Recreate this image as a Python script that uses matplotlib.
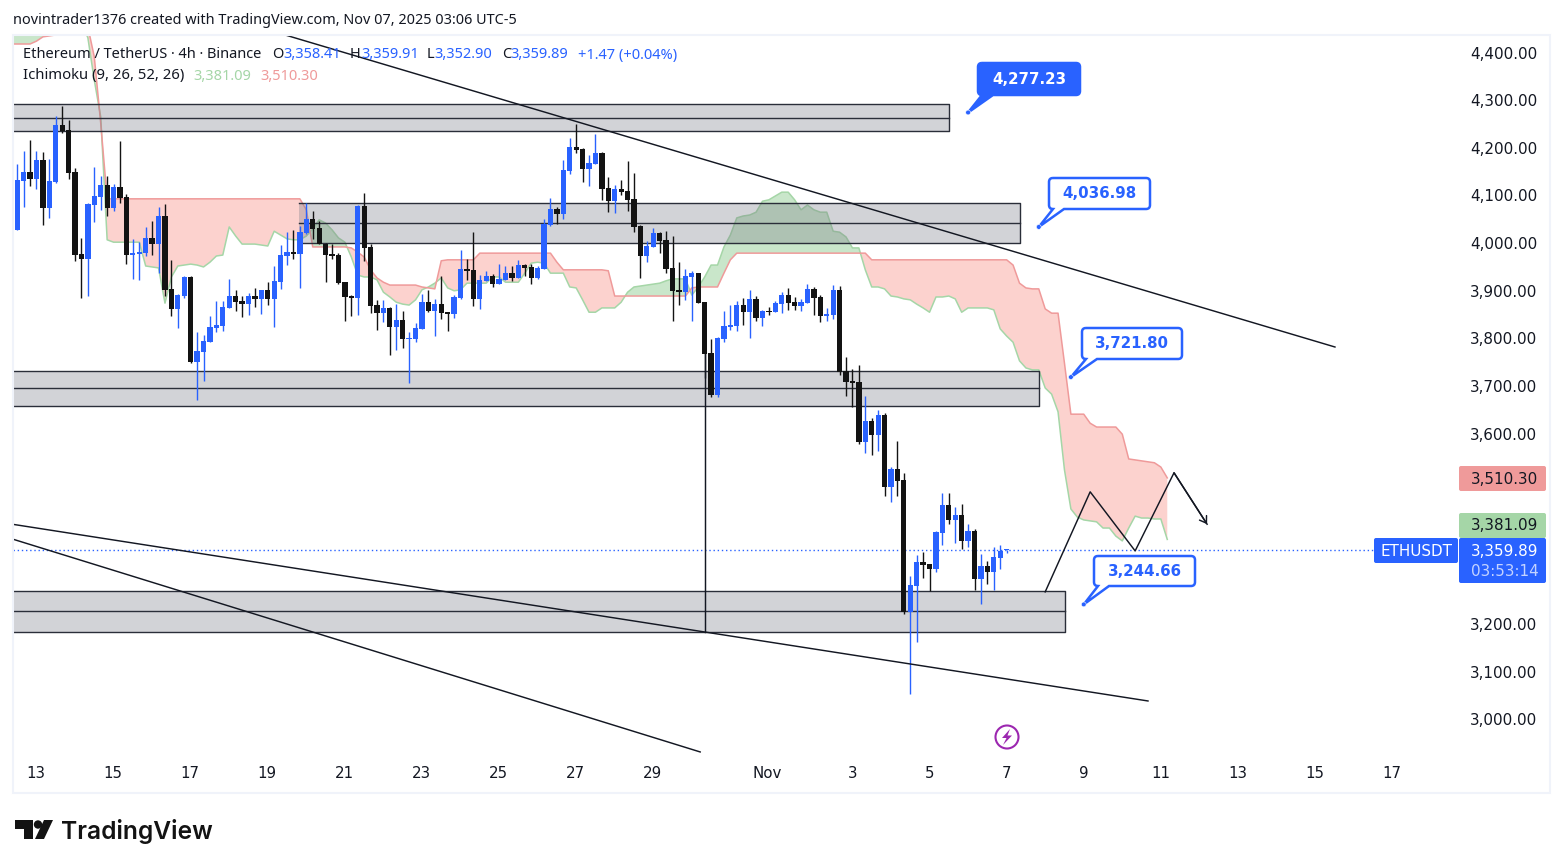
import numpy as np
import matplotlib
matplotlib.use("Agg")
import matplotlib.pyplot as plt
from matplotlib.path import Path
from matplotlib.patches import PathPatch, Rectangle, Circle, Polygon, FancyBboxPatch
from matplotlib.transforms import Affine2D, ScaledTranslation

W, H = 1563, 868

# 4h candles, left to right
opens = [4030,4133,4152,4137,4177,4077,4131,4251,4240,4152,3980,3969,4083,4100,4125,4077,4121,4100,3978,3980,
         3982,4014,4001,4060,3906,3864,3892,3932,3753,3774,3795,3825,3829,3867,3892,3881,3875,3892,3885,3904,
         3885,3921,3976,3984,3980,4024,4053,4035,4001,3980,3978,3921,3892,3888,4081,3995,3873,3856,3867,3827,
         3841,3802,3802,3823,3879,3860,3875,3858,3854,3888,3949,3946,3886,3923,3934,3917,3925,3940,3930,3957,
         3953,3930,3949,4041,4075,4064,4154,4205,4201,4159,4169,4192,4119,4091,4117,4112,4096,4039,3976,3995,
         4024,4009,3951,3904,3900,3932,3940,3879,3772,3684,3802,3827,3829,3873,3858,3886,3846,3860,3858,3875,
         3894,3879,3871,3877,3907,3890,3850,3852,3904,3734,3713,3711,3585,3630,3600,3642,3491,3529,3506,3228,
         3283,3333,3329,3319,3394,3453,3422,3432,3378,3399,3298,3325,3312,3342,3358.41]
highs = [4169,4196,4219,4196,4194,4180,4270,4291,4261,4161,4014,4087,4163,4144,4144,4127,4217,4106,4012,4005,
         4037,4049,4079,4085,3967,3896,3934,3934,3816,3810,3850,3881,3881,3927,3904,3892,3898,3909,3905,3921,
         3955,3999,4026,4030,4039,4087,4070,4049,4003,4001,3982,3922,3894,4083,4108,4001,3883,3883,3869,3875,
         3860,3816,3835,3896,3904,3886,3934,3859,3894,3988,3970,4026,3936,3944,3938,3959,3955,3955,3967,3959,
         3959,3955,4054,4098,4079,4177,4224,4253,4202,4188,4232,4194,4142,4125,4135,4175,4150,4041,4007,4035,
         4026,4028,4018,3963,3949,3944,3941,3880,3802,3806,3860,3873,3881,3888,3904,3892,3862,3869,3881,3900,
         3909,3890,3886,3917,3911,3894,3867,3915,3913,3764,3739,3747,3682,3636,3653,3646,3533,3588,3520,3304,
         3348,3354,3330,3399,3478,3478,3449,3455,3413,3403,3350,3336,3365,3369,3359.91]
lows = [4030,4079,4123,4116,4041,4056,4130,4234,4137,3966,3888,3892,4047,4072,4060,4070,4087,3959,3927,3925,
        3976,3978,3940,3892,3850,3825,3888,3751,3673,3713,3795,3816,3818,3867,3860,3848,3852,3869,3854,3873,
        3827,3906,3957,3969,3909,4022,4011,4001,3921,3969,3917,3839,3850,3852,3965,3856,3820,3837,3768,3778,
        3783,3709,3795,3822,3858,3808,3844,3818,3846,3886,3925,3871,3865,3923,3911,3917,3925,3923,3930,3934,
        3917,3928,3949,4039,4044,4054,4148,4192,4131,4123,4169,4094,4068,4066,4104,4070,4026,3930,3963,3995,
        3982,3940,3839,3873,3883,3839,3877,3720,3680,3680,3795,3821,3818,3831,3804,3839,3829,3852,3858,3856,
        3862,3862,3860,3877,3852,3837,3839,3844,3726,3682,3660,3581,3562,3558,3567,3472,3459,3472,3224,3056,
        3165,3300,3273,3312,3369,3413,3373,3361,3365,3275,3245,3287,3275,3319,3352.90]
closes = [4135,4152,4137,4177,4077,4133,4251,4238,4150,3978,3969,4086,4102,4125,4077,4121,4098,3978,3982,3984,
          4014,4001,4060,3904,3864,3894,3932,3753,3776,3797,3827,3831,3869,3892,3879,3875,3892,3885,3904,3885,
          3923,3978,3984,3980,4026,4053,4032,4002,3978,3976,3919,3890,3888,4081,3993,3871,3856,3867,3827,3841,
          3802,3804,3825,3879,3860,3875,3856,3854,3890,3949,3944,3886,3925,3934,3917,3928,3940,3930,3957,3951,
          3930,3951,4044,4075,4064,4156,4205,4198,4159,4171,4192,4117,4091,4117,4110,4094,4037,3976,3997,4024,
          4007,3949,3902,3900,3934,3940,3877,3770,3684,3804,3829,3831,3873,3858,3886,3846,3860,3858,3877,3894,
          3877,3871,3879,3907,3888,3850,3854,3904,3732,3711,3709,3585,3630,3600,3642,3491,3529,3504,3228,3285,
          3333,3327,3319,3396,3453,3422,3432,3378,3399,3298,3325,3312,3344,3357,3359.89]

# Ichimoku leading spans, one value per bar from the bar before the first candle
span_a = [4480,4480,4480,4480,4480,4480,4480,4480,4480,4480,4480,4467,4434,4345,4268,4010,4005,4005,4005,4005,4005,
          3955,3953,3951,3877,3932,3955,3957,3959,3957,3953,3963,3976,3978,4037,4018,4001,4001,4001,3999,3997,
          4028,4020,4012,4010,4010,4018,4033,4052,4045,4031,4014,4005,3974,3936,3932,3932,3926,3900,3890,3879,
          3875,3873,3884,3905,3911,3919,3930,3909,3903,3905,3919,3919,3919,3919,3932,3932,3921,3921,3921,3940,
          3961,3963,3961,3940,3940,3940,3911,3909,3884,3858,3858,3867,3867,3867,3879,3900,3911,3913,3915,3917,
          3919,3924,3928,3928,3928,3894,3911,3932,3957,3957,3995,4020,4056,4060,4062,4068,4091,4094,4102,4110,
          4110,4094,4073,4083,4073,4068,4068,4028,4026,4016,3993,3993,3947,3911,3911,3907,3892,3890,3886,3884,
          3875,3867,3858,3890,3890,3892,3886,3858,3867,3867,3867,3867,3863,3823,3808,3795,3756,3741,3737,3737,
          3699,3686,3649,3527,3445,3428,3422,3420,3418,3405,3405,3388,3378,3405,3430,3426,3426,3424,3424,3381.09]
span_b = [4421,4421,4421,4421,4427,4436,4438,4440,4442,4444,4448,4452,4457,4394,4255,4096,4096,4096,4096,4096,4096,
          4096,4096,4096,4096,4096,4096,4096,4096,4096,4096,4096,4096,4096,4096,4096,4096,4096,4096,4096,4096,
          4096,4096,4096,4096,4096,4073,3995,3995,3995,3995,3995,3995,3993,3984,3974,3947,3930,3921,3915,3915,
          3915,3915,3915,3911,3909,3907,3966,3968,3968,3968,3968,3968,3982,3982,3982,3982,3982,3982,3982,3982,
          3982,3982,3982,3982,3963,3947,3947,3947,3947,3947,3947,3947,3945,3892,3892,3892,3892,3892,3892,3892,
          3892,3892,3892,3892,3892,3909,3911,3911,3911,3911,3940,3968,3982,3982,3982,3982,3982,3982,3982,3982,
          3982,3982,3982,3982,3982,3982,3982,3982,3982,3982,3982,3982,3982,3968,3968,3968,3968,3968,3968,3968,
          3968,3968,3968,3968,3968,3968,3968,3968,3968,3968,3968,3968,3968,3968,3968,3957,3919,3909,3907,3907,
          3865,3856,3856,3751,3644,3644,3644,3625,3617,3617,3617,3617,3602,3550,3548,3546,3544,3542,3533,3510.30]

# drawn zones: left bar, right bar, top, bottom
zones = [(-5, 145.0, 4295, 4238), (43.9, 156.1, 4087, 4003), (-5, 159.0, 3735, 3661), (-5, 163.1, 3273, 3187)]
trend_1 = ([41.7, 205.1], [4440, 3785])
trend_2 = ([-2.2, 176.0], [3416, 3042])
trend_3 = ([-2.2, 106.3], [3388, 2935])
zigzag_x = [160.0, 167.0, 174.0, 180.05, 185.2]
zigzag_y = [3271, 3481, 3357, 3521, 3413]
drop_x, drop_y = 107, [3770, 3187]

price_ticks = [4400, 4300, 4200, 4100, 4000, 3900, 3800, 3700, 3600, 3200, 3100, 3000]
date_ticks = [2.9, 14.9, 26.9, 38.9, 50.9, 62.9, 74.9, 86.9, 98.9, 116.8, 130, 142, 154, 166, 178, 190, 202, 214]
date_labels = ["13", "15", "17", "19", "21", "23", "25", "27", "29", "Nov", "3", "5", "7", "9", "11", "13", "15", "17"]

callouts = [("4,277.23", 4277.23, 148.0, True), ("4,036.98", 4036.98, 159.0, False),
            ("3,721.80", 3721.80, 164.0, False), ("3,244.66", 3244.66, 166.0, False)]
callout_boxes = [(978, 63, 1080, 95), (1049, 178, 1150, 209), (1082, 328, 1182, 359), (1094, 556, 1195, 586)]

BLUE = "#2962ff"
BLACK = "#131313"
INK = "#131722"
UI = "Noto Sans"

fig = plt.figure(figsize=(W / 100, H / 100), dpi=100, facecolor="white")
ax = fig.add_axes([13 / W, 1 - 758 / H, (1458 - 13) / W, (758 - 35) / H])
ax.set_xlim(-0.654, 224.25)
ax.set_ylim(2922.3, 4439.9)
for s in ax.spines.values():
    s.set_visible(False)

# image pixel coordinates for everything that is not on the price scale
tp = Affine2D().scale(1 / W, -1 / H).translate(0, 1) + fig.transFigure

fig.add_artist(Rectangle((13, 35), 1537, 758, transform=tp, fc="none", ec="#f0f3fa", lw=1.5))

# cloud
cx = np.arange(len(span_a)) - 1
a = np.array(span_a, dtype=float)
b = np.array(span_b, dtype=float)
ax.fill_between(cx, a, b, where=a >= b, interpolate=True, color="#4caf50", alpha=0.3, lw=0, zorder=1)
ax.fill_between(cx, a, b, where=a <= b, interpolate=True, color="#f44336", alpha=0.24, lw=0, zorder=1)
ax.plot(cx, a, color="#a5d6a7", lw=1.1, zorder=1.5)
ax.plot(cx, b, color="#ef9a9a", lw=1.1, zorder=1.5)

# zones
for x0, x1, top, bot in zones:
    ax.add_patch(Rectangle((x0, bot), x1 - x0, top - bot, fc="#787b86", alpha=0.33, ec="none", zorder=2))
    ax.plot([x0, x1, x1, x0], [top, top, bot, bot], color="#2a2e39", lw=1.0, zorder=2.5)
    ax.plot([x0, x1], [(top + bot) / 2] * 2, color="#2a2e39", lw=1.0, zorder=2.5)

# candles
idx = np.arange(len(opens))
o, h, l, c = [np.array(v, dtype=float) for v in (opens, highs, lows, closes)]
colors = [BLUE if cc >= oo else BLACK for oo, cc in zip(o, c)]
ax.vlines(idx, l, h, colors=colors, lw=1.0, zorder=3)
ax.bar(idx, np.maximum(np.abs(c - o), 2.5), bottom=np.minimum(o, c), width=0.82, color=colors, lw=0, zorder=3.1)

# last price
ax.axhline(closes[-1], color=BLUE, lw=1.0, ls=(0, (1, 2)), zorder=2.8)

# drawings
for tx, ty in (trend_1, trend_2, trend_3):
    ax.plot(tx, ty, color="#131722", lw=1.05, zorder=4)
ax.plot(zigzag_x, zigzag_y, color="#131722", lw=1.05, zorder=4)
ax.annotate("", xy=(zigzag_x[-1], zigzag_y[-1]), xytext=(zigzag_x[-2], zigzag_y[-2]), zorder=4,
            arrowprops=dict(arrowstyle="->,head_length=0.45,head_width=0.3", color="#131722", lw=1.05, shrinkA=0, shrinkB=0))
ax.plot([drop_x, drop_x], drop_y, color="#131722", lw=1.05, zorder=3)

ax.yaxis.tick_right()
ax.set_yticks(price_ticks)
ax.set_yticklabels([f"{p:,.2f}" for p in price_ticks], fontsize=10.9, color=INK, family="DejaVu Sans")
ax.set_xticks(date_ticks)
ax.set_xticklabels(date_labels, fontsize=10.8, color=INK, family="DejaVu Sans")
ax.tick_params(axis="y", length=0, pad=8.6)
ax.tick_params(axis="x", length=0, pad=5.8)
nudge = ScaledTranslation(0, 1.5 / 100, fig.dpi_scale_trans)
for t in ax.get_yticklabels():
    t.set_transform(t.get_transform() + nudge)


def callout_path(x0, y0, x1, y1, tipx, tipy, r=4):
    verts = [(x0 + r, y0), (x1 - r, y0), (x1, y0), (x1, y0 + r), (x1, y1 - r), (x1, y1), (x1 - r, y1),
             (x0 + 15, y1), (tipx, tipy), (x0 + 4, y1), (x0 + r, y1), (x0, y1), (x0, y1 - r), (x0, y0 + r), (x0, y0),
             (x0 + r, y0)]
    codes = [Path.MOVETO, Path.LINETO, Path.CURVE3, Path.CURVE3, Path.LINETO, Path.CURVE3, Path.CURVE3,
             Path.LINETO, Path.LINETO, Path.LINETO, Path.LINETO, Path.CURVE3, Path.CURVE3, Path.LINETO, Path.CURVE3,
             Path.CURVE3]
    return Path(verts, codes)


for (txt, price, bar, solid), (x0, y0, x1, y1) in zip(callouts, callout_boxes):
    # anchor in image pixels so the box and the tip stay in one path
    disp = ax.transData.transform((bar, price))
    tipx, tipy = disp[0], H - disp[1]
    fig.add_artist(PathPatch(callout_path(x0, y0, x1, y1, tipx, tipy), transform=tp, lw=1.8,
                             fc=BLUE if solid else "white", ec=BLUE, zorder=6))
    fig.add_artist(Circle((tipx, tipy), 2.4, transform=tp, fc=BLUE, ec="white", lw=0.4, zorder=6.1))
    fig.text((x0 + x1) / 2 / W, 1 - ((y0 + y1) / 2) / H, txt, ha="center", va="center", fontsize=10.8,
             fontweight="bold", family="DejaVu Sans", color="white" if solid else BLUE, zorder=7)


def label(x, y, s, **kw):
    kw.setdefault("fontsize", 10.5)
    kw.setdefault("family", UI)
    kw.setdefault("color", INK)
    kw.setdefault("va", "center")
    return fig.text(x / W, 1 - y / H, s, zorder=8, **kw)


def tag(x0, y0, x1, y1, color):
    fig.add_artist(FancyBboxPatch((x0, y0), x1 - x0, y1 - y0, boxstyle="round,pad=0,rounding_size=2",
                                  transform=tp, fc=color, ec="none", zorder=7))


tag(1459, 466, 1546, 491, "#ef9a9a")
tag(1459, 513, 1546, 538, "#a5d6a7")
tag(1459, 538, 1546, 583, BLUE)
tag(1374, 538, 1458, 563, BLUE)
label(1471, 479, "3,510.30", fontsize=10.9, family="DejaVu Sans")
label(1471, 526, "3,381.09", fontsize=10.9, family="DejaVu Sans")
label(1471, 551, "3,359.89", fontsize=10.9, family="DejaVu Sans", color="white")
label(1471, 571, "03:53:14", fontsize=10.9, family="DejaVu Sans", color="#c4d3ff")
label(1380, 551, "ETHUSDT", fontsize=10.9, family="DejaVu Sans", color="white", fontweight="medium")

# header
label(13, 21, "novintrader1376 created with TradingView.com, Nov 07, 2025 03:06 UTC-5", fontsize=10.4)
label(23, 55, "Ethereum / TetherUS · 4h · Binance")
for x, s, col in [(272, "O", INK), (283, "3,358.41", BLUE), (350, "H", INK), (361, "3,359.91", BLUE),
                  (427, "L", INK), (434, "3,352.90", BLUE), (502, "C", INK), (510, "3,359.89", BLUE),
                  (578, "+1.47 (+0.04%)", BLUE)]:
    label(x, 55, s, color=col)
label(23, 76, "Ichimoku (9, 26, 52, 26)", fontsize=10.7)
label(193, 76, "3,381.09", color="#a5d6a7")
label(260, 76, "3,510.30", color="#ef9a9a")

# bolt badge
fig.add_artist(Circle((1007, 737), 11.5, transform=tp, fc="white", ec="#9c27b0", lw=1.5, zorder=5))
fig.add_artist(Polygon([(1010, 729), (1002, 738), (1006.5, 738), (1003, 745), (1012, 735.5), (1007.5, 735.5)],
                       transform=tp, fc="#9c27b0", ec="none", zorder=5.1))

# logo
fig.add_artist(Polygon([(15, 820), (33, 820), (33, 839), (24, 839), (24, 829), (15, 829)], transform=tp, fc=BLACK, ec="none"))
fig.add_artist(Circle((38, 824.5), 4.2, transform=tp, fc=BLACK, ec="none"))
fig.add_artist(Polygon([(44, 820), (53, 820), (44, 839), (35, 839)], transform=tp, fc=BLACK, ec="none"))
label(61, 831, "TradingView", fontsize=17.7, family="Inter", fontweight="semibold", color=BLACK)

fig.savefig("out.png", dpi=100)
